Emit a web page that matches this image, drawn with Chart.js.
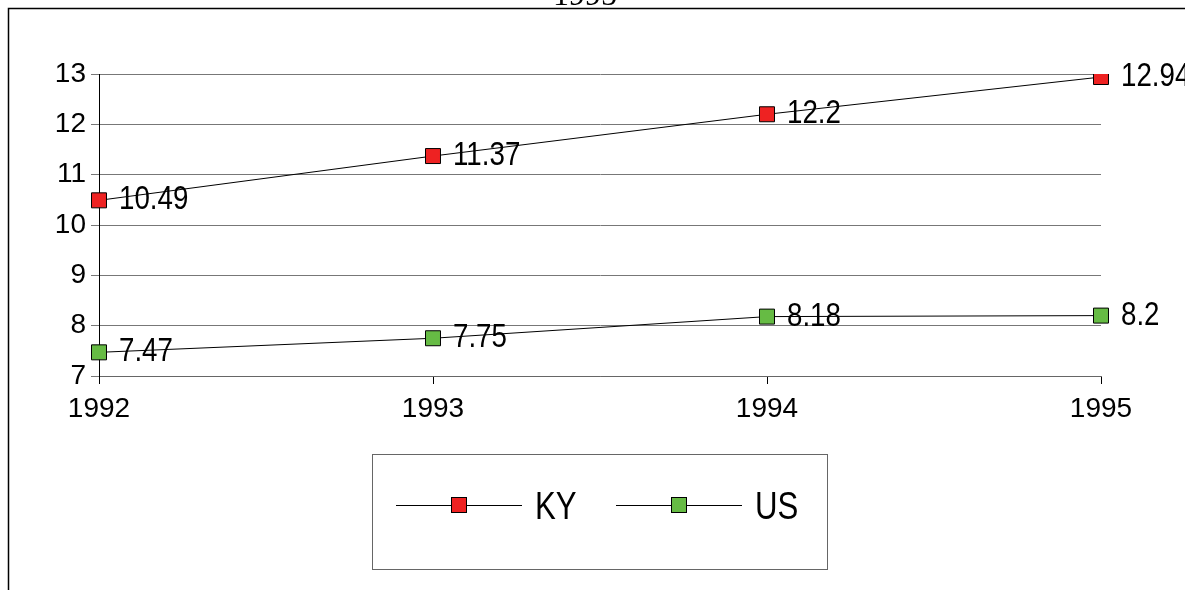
<!DOCTYPE html>
<html lang="en">
<head>
  <meta charset="UTF-8" />
  <title>KY vs US</title>
  <style>
    * { margin: 0; padding: 0; }
    body { background: #fff; }
    .chartBox { width: 1185px; height: 590px; position: relative; }
  </style>
</head>
<body>
  <div class="chartBox">
    <canvas id="myChart"></canvas>
  </div>
  <script src="https://cdn.jsdelivr.net/npm/chart.js@4/dist/chart.umd.min.js"></script>
  <script>
    const years = ["1992", "1993", "1994", "1995"];
    const kyValues = [10.49, 11.37, 12.2, 12.94];
    const usValues = [7.47, 7.75, 8.18, 8.2];
    const yTicks = [7, 8, 9, 10, 11, 12, 13];
    const titleText = "1995";

    const labelFont = "Liberation Sans, Arial, sans-serif";

    // frame + clipped title above it
    const framePlugin = {
      id: "frame",
      beforeDraw(chart) {
        const c = chart.ctx;
        c.save();
        c.fillStyle = "#fff";
        c.fillRect(0, 0, chart.width, chart.height);
        c.strokeStyle = "#000";
        c.lineWidth = 1.5;
        c.beginPath();
        c.moveTo(8.5, chart.height);
        c.lineTo(8.5, 8.5);
        c.lineTo(chart.width, 8.5);
        c.stroke();
        c.fillStyle = "#000";
        c.font = "32px 'Liberation Serif', serif";
        c.textAlign = "center";
        c.textBaseline = "alphabetic";
        c.fillText(titleText, 585, 5);
        c.restore();
      }
    };

    // value labels next to each point
    const valueLabels = {
      id: "valueLabels",
      afterDatasetsDraw(chart) {
        const c = chart.ctx;
        c.save();
        c.fillStyle = "#000";
        c.font = "33px " + labelFont;
        c.textBaseline = "middle";
        chart.data.datasets.forEach((ds, i) => {
          chart.getDatasetMeta(i).data.forEach((pt, j) => {
            c.save();
            c.translate(pt.x + 20, pt.y);
            c.scale(0.84, 1);
            c.fillText(String(ds.data[j]), 0, 0);
            c.restore();
          });
        });
        c.restore();
      }
    };

    // boxed legend under the plot
    const boxLegend = {
      id: "boxLegend",
      afterDraw(chart) {
        const c = chart.ctx;
        c.save();
        c.strokeStyle = "#666";
        c.lineWidth = 1;
        c.strokeRect(372.5, 454.5, 455, 115);
        const items = [
          { x: 396, ds: chart.data.datasets[0] },
          { x: 616, ds: chart.data.datasets[1] }
        ];
        items.forEach(it => {
          const y = 505;
          c.strokeStyle = "#000";
          c.beginPath();
          c.moveTo(it.x, y + 0.5);
          c.lineTo(it.x + 126, y + 0.5);
          c.stroke();
          c.fillStyle = it.ds.pointBackgroundColor;
          c.fillRect(it.x + 55, y - 8, 15, 15);
          c.strokeRect(it.x + 55.5, y - 7.5, 15, 15);
          c.fillStyle = "#000";
          c.font = "39px " + labelFont;
          c.textBaseline = "middle";
          c.save();
          c.translate(it.x + 139, y + 3);
          c.scale(0.8, 1);
          c.fillText(it.ds.label, 0, 0);
          c.restore();
        });
        c.restore();
      }
    };

    const data = {
      labels: years,
      datasets: [
        {
          label: "KY",
          data: kyValues,
          borderColor: "#000",
          borderWidth: 1,
          pointStyle: "rect",
          pointRadius: 10.6,
          pointBackgroundColor: "#ee2222",
          pointBorderColor: "#000",
          pointBorderWidth: 1
        },
        {
          label: "US",
          data: usValues,
          borderColor: "#000",
          borderWidth: 1,
          pointStyle: "rect",
          pointRadius: 10.6,
          pointBackgroundColor: "#66bb44",
          pointBorderColor: "#000",
          pointBorderWidth: 1
        }
      ]
    };

    const options = {
      responsive: true,
      maintainAspectRatio: false,
      animation: false,
      layout: { padding: { left: 0, top: 74, right: 84, bottom: 0 } },
      scales: {
        x: {
          type: "category",
          offset: false,
          afterFit(scale) { scale.height = 214; },
          grid: {
            drawOnChartArea: false,
            drawTicks: true,
            tickLength: 8,
            color: "#000"
          },
          border: { display: true, color: "#666" },
          ticks: {
            padding: 8,
            color: "#000",
            maxRotation: 0,
            font: { family: labelFont, size: 28 }
          }
        },
        y: {
          min: 7,
          max: 13,
          afterFit(scale) { scale.width = 99; },
          afterBuildTicks(scale) { scale.ticks = yTicks.map(v => ({ value: v })); },
          grid: {
            color: "#777",
            tickLength: 8
          },
          border: { display: true, color: "#000" },
          ticks: {
            padding: 5,
            color: "#000",
            font: { family: labelFont, size: 28 }
          }
        }
      },
      plugins: {
        legend: { display: false },
        title: { display: false },
        tooltip: { enabled: false }
      }
    };

    const ctx = document.getElementById("myChart").getContext("2d");
    const myChart = new Chart(ctx, {
      type: "line",
      data: data,
      options: options,
      plugins: [framePlugin, valueLabels, boxLegend]
    });
  </script>
</body>
</html>
